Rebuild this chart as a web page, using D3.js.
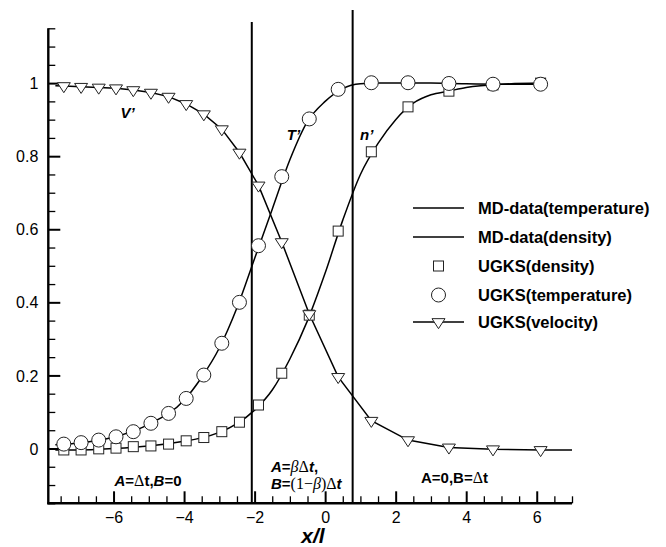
<!DOCTYPE html>
<html><head><meta charset="utf-8">
<script src="https://cdn.jsdelivr.net/npm/d3@7"></script>
<style>
html,body{margin:0;padding:0;background:#fff;}
svg{display:block;font-family:"Liberation Sans",Arial,Helvetica,sans-serif;}
</style></head>
<body>
<svg id="chart" width="666" height="547"></svg>
<script>
// ---- data ----
const ugksX = [-7.41,-6.92,-6.42,-5.93,-5.44,-4.94,-4.44,-3.94,-3.44,-2.93,-2.43,-1.89,-1.23,-0.45,0.37,1.31,2.35,3.51,4.76,6.11];
const ugksDensity = [-0.004,-0.004,-0.001,0.001,0.005,0.007,0.012,0.021,0.030,0.046,0.072,0.119,0.206,0.365,0.595,0.812,0.935,0.978,0.995,1.0];
const ugksTemperature = [0.012,0.016,0.023,0.032,0.046,0.069,0.096,0.137,0.201,0.288,0.40,0.555,0.744,0.902,0.983,1.001,1.001,0.999,0.997,0.997];
const ugksVelocity = [0.992,0.990,0.988,0.986,0.981,0.974,0.963,0.943,0.915,0.874,0.81,0.72,0.565,0.368,0.196,0.076,0.023,0.003,-0.002,-0.004];
const velocityLineX = [-7.65].concat(ugksX).concat([7.0]);
const velocityLineY = [0.993].concat(ugksVelocity).concat([-0.004]);

const mdX = [-7.65,-7.0,-6.0,-5.0,-4.0,-3.5,-3.0,-2.5,-2.0,-1.5,-1.0,-0.5,0.0,0.5,1.0,1.5,2.0,2.5,3.0,3.5,4.0,5.0,6.11];
const mdTemperature = [0.010,0.015,0.031,0.066,0.132,0.195,0.275,0.385,0.52,0.655,0.79,0.895,0.95,0.985,0.998,1.0,1.0,1.0,1.0,0.999,0.998,0.997,0.997];
const mdDensity = [-0.004,-0.004,0.0,0.007,0.020,0.029,0.044,0.068,0.105,0.16,0.245,0.35,0.48,0.625,0.75,0.835,0.90,0.945,0.968,0.978,0.988,0.997,1.0];

const interfaceX = [-2.08, 0.78];
const interfaceTop = [1.167, 1.2];

const xMajorTicks = [-6,-4,-2,0,2,4,6];
const yMajorTicks = [0,0.2,0.4,0.6,0.8,1];
const xDomain = [-7.85, 7];
const yDomain = [-0.15, 1.15];

const legendLabels = ["MD-data(temperature)","MD-data(density)","UGKS(density)","UGKS(temperature)","UGKS(velocity)"];

// ---- drawing ----
const svg = d3.select("#chart");
const L = 48.3, R = 572, T = 28.3, B = 503.3;
const x = d3.scaleLinear().domain(xDomain).range([L, R]);
const y = d3.scaleLinear().domain(yDomain).range([B, T]);

const xMinor = d3.range(-7.5, 7.001, 0.5).filter(v => !xMajorTicks.some(m => Math.abs(m - v) < 1e-6));
const yMinor = d3.range(-0.15, 1.1501, 0.05).filter(v => !yMajorTicks.some(m => Math.abs(m - v) < 1e-6));

const xAxisMajor = d3.axisBottom(x).tickValues(xMajorTicks).tickSizeInner(-12).tickSizeOuter(0).tickFormat(d3.format("d"));
const xAxisMinor = d3.axisBottom(x).tickValues(xMinor).tickSizeInner(-7).tickSizeOuter(0).tickFormat("");
const yAxisMajor = d3.axisLeft(y).tickValues(yMajorTicks).tickSizeInner(-12).tickSizeOuter(0).tickFormat(d => d === 0 ? "0" : d === 1 ? "1" : d3.format(".1f")(d));
const yAxisMinor = d3.axisLeft(y).tickValues(yMinor).tickSizeInner(-7).tickSizeOuter(0).tickFormat("");

function styleAxis(g, minor){
  g.select(".domain").remove();
  g.selectAll(".tick line").attr("stroke","#000").attr("stroke-width", minor ? 1.3 : 2);
  g.selectAll(".tick text").attr("fill","#000").attr("font-size",16).attr("font-family","'Liberation Sans',Arial,sans-serif");
}
svg.append("g").attr("transform",`translate(0,${B})`).call(xAxisMinor).call(styleAxis, true);
const gx = svg.append("g").attr("transform",`translate(0,${B})`).call(xAxisMajor).call(styleAxis, false);
gx.selectAll(".tick text").attr("y",8).attr("dy","0.71em");
svg.append("g").attr("transform",`translate(${L},0)`).call(yAxisMinor).call(styleAxis, true);
const gy = svg.append("g").attr("transform",`translate(${L},0)`).call(yAxisMajor).call(styleAxis, false);
gy.selectAll(".tick text").attr("x",-10).attr("dy","0.35em");

// axis lines
svg.append("line").attr("x1",L).attr("x2",L).attr("y1",T).attr("y2",B+1).attr("stroke","#000").attr("stroke-width",2.4);
svg.append("line").attr("x1",L-1).attr("x2",R).attr("y1",B).attr("y2",B).attr("stroke","#000").attr("stroke-width",2.4);

// interface lines
interfaceX.forEach((v,i) => {
  svg.append("line").attr("x1",x(v)).attr("x2",x(v)).attr("y1",y(interfaceTop[i])).attr("y2",B)
    .attr("stroke","#000").attr("stroke-width",2);
});

// curves
const mdLine = d3.line().curve(d3.curveMonotoneX);
svg.append("path").attr("d", mdLine(mdX.map((v,i)=>[x(v), y(mdTemperature[i])])))
  .attr("fill","none").attr("stroke","#000").attr("stroke-width",1.5);
svg.append("path").attr("d", mdLine(mdX.map((v,i)=>[x(v), y(mdDensity[i])])))
  .attr("fill","none").attr("stroke","#000").attr("stroke-width",1.5);
const linLine = d3.line();
svg.append("path").attr("d", linLine(velocityLineX.map((v,i)=>[x(v), y(velocityLineY[i])])))
  .attr("fill","none").attr("stroke","#000").attr("stroke-width",1.5);

// markers
const tri = (cx, cy) => {
  const w = 13, h = 10;
  return `M${cx-w/2},${cy-h/3}L${cx+w/2},${cy-h/3}L${cx},${cy+2*h/3}Z`;
};
svg.append("g").selectAll("rect").data(ugksX).join("rect")
  .attr("x", d => x(d)-5).attr("y", (d,i) => y(ugksDensity[i])-5).attr("width",10).attr("height",10)
  .attr("fill","#fff").attr("stroke","#222").attr("stroke-width",1);
svg.append("g").selectAll("circle").data(ugksX).join("circle")
  .attr("cx", d => x(d)).attr("cy", (d,i) => y(ugksTemperature[i])).attr("r", 7)
  .attr("fill","#fff").attr("stroke","#222").attr("stroke-width",1);
svg.append("g").selectAll("path").data(ugksX).join("path")
  .attr("d", (d,i) => tri(x(d), y(ugksVelocity[i])))
  .attr("fill","#fff").attr("stroke","#222").attr("stroke-width",1);

// curve labels
const lab = (tx, ty, t) => svg.append("text").attr("x",tx).attr("y",ty).attr("text-anchor","middle")
  .attr("dominant-baseline","central").attr("font-size",15).attr("font-weight","bold").attr("font-style","italic").text(t);
lab(x(-5.6), y(0.92), "V’");
lab(x(-0.9), y(0.86), "T’");
lab(x(1.18), y(0.86), "n’");

// region annotations
const symF = "'Liberation Serif','DejaVu Serif',serif";
function richText(tx, ty, parts, anchor){
  const t = svg.append("text").attr("x",tx).attr("y",ty).attr("font-size",15).attr("text-anchor",anchor||"start");
  parts.forEach(p => {
    const s = t.append("tspan").text(p[0]);
    s.attr("font-weight", p[1].includes("b") ? "bold" : "normal");
    s.attr("font-style", p[1].includes("i") ? "italic" : "normal");
    if (p[1].includes("s")) s.attr("font-family", symF).attr("font-size",16);
  });
  return t;
}
richText(148, 486, [["A","bi"],["=","b"],["Δ","s"],["t","b"],[",","b"],["B","bi"],["=0","b"]], "middle");
richText(271, 472, [["A","bi"],["=","b"],["β","si"],["Δ","s"],["t","bi"],[",","b"]]);
richText(271, 489, [["B","bi"],["=","b"],["(1−","s"],["β","si"],[")","s"],["Δ","s"],["t","bi"]]);
richText(421, 483, [["A=0,B=","b"],["Δ","s"],["t","b"]]);

// x axis title
svg.append("text").attr("x",313).attr("y",543).attr("text-anchor","middle").attr("font-size",21)
  .attr("font-weight","bold").attr("font-style","italic").text("x/l");

// legend
const lgX1 = 413, lgX2 = 464, lgTx = 478;
const lgY = [208, 237, 266, 295, 322];
legendLabels.forEach((t,i) => {
  svg.append("text").attr("x",lgTx).attr("y",lgY[i]).attr("dominant-baseline","central")
    .attr("font-size",16.5).attr("font-weight","bold").text(t);
});
[0,1,4].forEach(i => svg.append("line").attr("x1",lgX1).attr("x2",lgX2).attr("y1",lgY[i]).attr("y2",lgY[i])
  .attr("stroke","#000").attr("stroke-width",1.5));
const lgMid = (lgX1+lgX2)/2;
svg.append("rect").attr("x",lgMid-5).attr("y",lgY[2]-5).attr("width",10).attr("height",10).attr("fill","#fff").attr("stroke","#222");
svg.append("circle").attr("cx",lgMid).attr("cy",lgY[3]).attr("r",7).attr("fill","#fff").attr("stroke","#222");
svg.append("path").attr("d",tri(lgMid,lgY[4])).attr("fill","#fff").attr("stroke","#222");
</script>
</body></html>
